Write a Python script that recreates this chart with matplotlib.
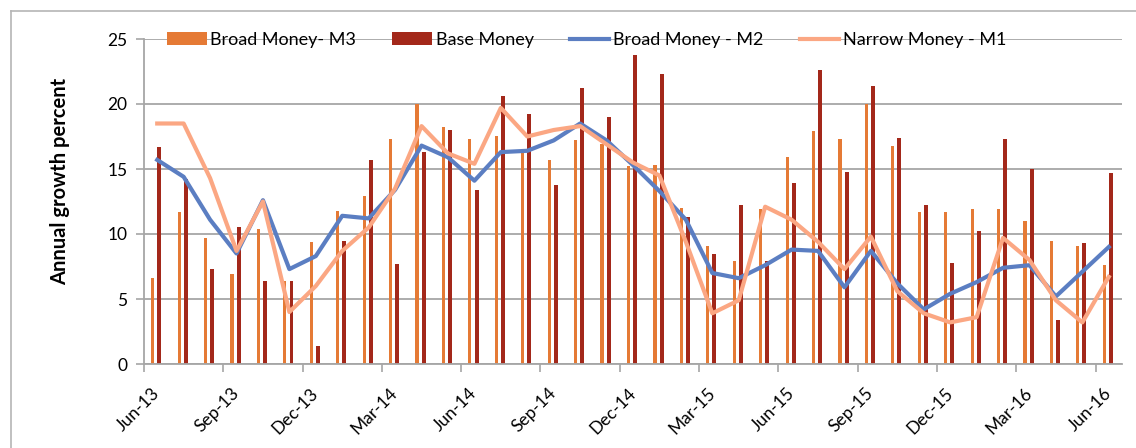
import numpy as np
import matplotlib
matplotlib.use('Agg')
import matplotlib.pyplot as plt
from matplotlib.lines import Line2D

plt.rcParams['font.family'] = ['Lato', 'DejaVu Sans']

# Monthly data, Jun-13 to Jun-16
months = ['Jun-13', 'Jul-13', 'Aug-13', 'Sep-13', 'Oct-13', 'Nov-13', 'Dec-13',
          'Jan-14', 'Feb-14', 'Mar-14', 'Apr-14', 'May-14', 'Jun-14', 'Jul-14',
          'Aug-14', 'Sep-14', 'Oct-14', 'Nov-14', 'Dec-14', 'Jan-15', 'Feb-15',
          'Mar-15', 'Apr-15', 'May-15', 'Jun-15', 'Jul-15', 'Aug-15', 'Sep-15',
          'Oct-15', 'Nov-15', 'Dec-15', 'Jan-16', 'Feb-16', 'Mar-16', 'Apr-16',
          'May-16', 'Jun-16']
broad_m3 = [6.6, 11.7, 9.7, 6.9, 10.4, 6.4, 9.4, 11.8, 12.9, 17.3, 20.0, 18.2,
            17.3, 17.5, 16.4, 15.7, 17.2, 16.9, 15.2, 15.3, 12.0, 9.1, 7.9, 11.9,
            15.9, 17.9, 17.3, 20.0, 16.8, 11.7, 11.7, 11.9, 11.9, 11.0, 9.5, 9.1, 7.6]
base_money = [16.7, 14.2, 7.3, 10.5, 6.4, 6.4, 1.4, 9.5, 15.7, 7.7, 16.3, 18.0,
              13.4, 20.6, 19.2, 13.8, 21.2, 19.0, 23.8, 22.3, 11.3, 8.5, 12.2, 7.9,
              13.9, 22.6, 14.8, 21.4, 17.4, 12.2, 7.8, 10.2, 17.3, 15.0, 3.4, 9.3, 14.7]
broad_m2 = [15.7, 14.4, 11.1, 8.5, 12.6, 7.3, 8.3, 11.4, 11.2, 13.4, 16.8, 15.9,
            14.1, 16.3, 16.4, 17.2, 18.5, 17.2, 15.3, 13.3, 11.1, 7.0, 6.6, 7.6,
            8.8, 8.7, 5.9, 8.7, 6.2, 4.2, 5.4, 6.3, 7.4, 7.6, 5.2, 7.1, 9.0]
narrow_m1 = [18.5, 18.5, 14.3, 8.7, 12.5, 4.0, 6.0, 8.7, 10.5, 13.5, 18.3, 16.2,
             15.4, 19.7, 17.5, 18.0, 18.3, 16.9, 15.5, 14.5, 9.4, 3.9, 4.9, 12.1,
             11.1, 9.4, 7.3, 9.8, 5.6, 3.9, 3.2, 3.6, 9.7, 8.0, 4.9, 3.2, 6.7]

c_m3 = '#E57A35'
c_base = '#A3281A'
c_m2 = '#5B7EC2'
c_m1 = '#FBA783'
grid_c = '#A6A6A6'

x = np.arange(len(months))

fig = plt.figure(figsize=(11.36, 4.48), dpi=100)
ax = fig.add_axes([144 / 1136, 1 - 364 / 448, 978 / 1136, 325 / 448])

b1 = ax.bar(x - 0.17, broad_m3, width=0.12, color=c_m3, label='Broad Money- M3', zorder=2)
b2 = ax.bar(x + 0.08, base_money, width=0.15, color=c_base, label='Base Money', zorder=2)
l1, = ax.plot(x, broad_m2, color=c_m2, lw=3, label='Broad Money - M2', zorder=3)
l2, = ax.plot(x, narrow_m1, color=c_m1, lw=3, label='Narrow Money - M1', zorder=4)

ax.set_xlim(-0.5, len(months) - 0.5)
ax.set_ylim(0, 25)
ax.set_yticks(range(0, 26, 5))
ax.yaxis.grid(True, color=grid_c, lw=1.3, zorder=0)
ax.set_axisbelow(True)

# labels every 3 months at category centre, tick marks on the boundaries
ax.set_xticks(x[::3])
ax.set_xticklabels(months[::3], rotation=45, ha='right', va='center',
                   rotation_mode='anchor')
ax.set_xticks(x[::3] - 0.5, minor=True)
ax.tick_params(axis='x', which='major', length=0, pad=19, labelsize=12.5)
ax.tick_params(axis='x', which='minor', length=6, color=grid_c, width=1.2)
ax.tick_params(axis='y', length=6, color=grid_c, width=1.2, labelsize=12.5, pad=6)

for s in ['top', 'right']:
    ax.spines[s].set_visible(False)
for s in ['left', 'bottom']:
    ax.spines[s].set_color(grid_c)
    ax.spines[s].set_linewidth(1.3)

fig.text(60 / 1136, 1 - 181 / 448, 'Annual growth percent', rotation=90,
         ha='center', va='center', fontsize=14.5, fontweight='bold')

leg = ax.legend(handles=[b1, b2, l1, l2], loc='center left',
                bbox_to_anchor=(167 / 1136, 1 - 40 / 448),
                bbox_transform=fig.transFigure, ncol=4, frameon=False,
                fontsize=13, handlelength=2.2, handleheight=0.7,
                handletextpad=0.2, columnspacing=2.0, borderpad=0, borderaxespad=0)

# outer chart frame
fig.add_artist(Line2D([11 / 1136, 11 / 1136], [0, 1 - 11 / 448], color='#B5B5B5', lw=1.2))
fig.add_artist(Line2D([11 / 1136, 1], [1 - 11 / 448, 1 - 11 / 448], color='#B5B5B5', lw=1.2))

fig.savefig('out.png', dpi=100)
